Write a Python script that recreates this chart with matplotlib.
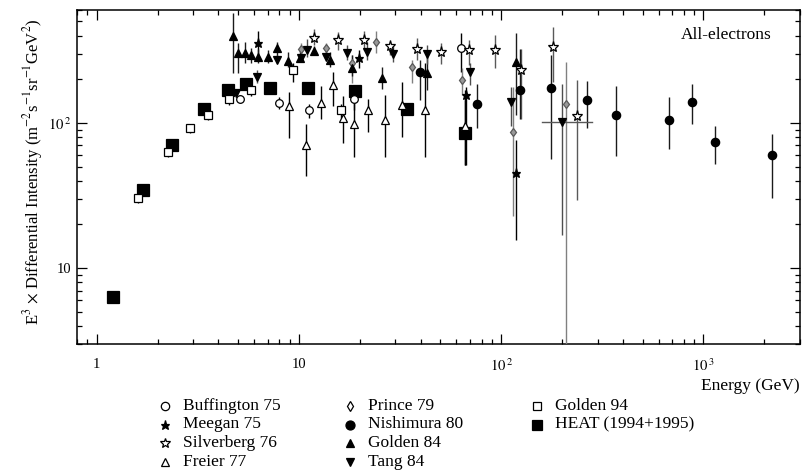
import numpy as np
import matplotlib
matplotlib.use("Agg")
import matplotlib.pyplot as plt
from matplotlib.lines import Line2D
from matplotlib.ticker import FuncFormatter, LogLocator, NullFormatter

plt.rcParams['font.family'] = ['Liberation Serif', 'DejaVu Serif']
plt.rcParams['mathtext.fontset'] = 'stix'

# HEAT (1994+1995)
heat_e = [1.20, 1.70, 2.37, 3.40, 4.47, 5.46, 7.2, 11.1, 19.0, 34.4, 66.5]
heat_i = [6.3, 34.3, 70, 124, 168, 185, 173, 173, 165, 124, 85]
heat_lo = [6.1, 33, 67, 119, 161, 178, 166, 166, 157, 117, 51]
heat_hi = [6.5, 35.5, 73, 129, 175, 192, 180, 180, 173, 131, 143]

# Golden 94
g94_e = [1.60, 2.25, 2.90, 3.56, 4.5, 5.8, 9.3, 16.2]
g94_i = [30.2, 62.8, 92, 113, 146, 168, 231, 122]
g94_lo = [28, 58, 85, 104, 134, 154, 191, 108]
g94_hi = [32, 67, 99, 122, 158, 182, 258, 136]

# Buffington 75
buf_e = [5.1, 8.0, 11.2, 18.7, 63]
buf_i = [146, 138, 122, 147, 326]
buf_lo = [138, 125, 108, 122, 223]
buf_hi = [155, 152, 135, 172, 419]

# Prince 79
pri_e = [10.2, 13.6, 18.2, 24.1, 36.2, 64.2, 114, 208]
pri_i = [321, 326, 257, 364, 241, 197, 86, 136]
pri_lo = [264, 279, 188, 302, 188, 155, 23, 1]
pri_hi = [354, 354, 293, 429, 271, 238, 176, 262]

# Meegan 75
mee_e = [6.3, 19.8, 67, 119]
mee_i = [356, 278, 157, 45.2]
mee_lo = [271, 238, 51, 15.5]
mee_hi = [429, 317, 176, 76]

# Silverberg 76
sil_e = [11.9, 15.6, 20.9, 28.1, 38.3, 50.5, 69, 93, 125, 181, 236]
sil_i = [386, 372, 372, 340, 322, 309, 317, 317, 231, 331, 112]
sil_lo = [343, 317, 317, 293, 271, 254, 250, 238, 106, 192, 29.3]
sil_hi = [443, 422, 429, 360, 384, 354, 372, 403, 322, 461, 197]

# Freier 77
fre_e = [8.9, 10.8, 12.9, 14.8, 16.5, 18.7, 21.9, 26.7, 32.4, 42.1, 66.5]
fre_i = [130, 70.2, 137, 182, 108, 99, 122, 105.5, 132, 122, 96]
fre_lo = [78.4, 42.9, 106, 130, 72.4, 58, 86, 58, 80, 58, 51]
fre_hi = [163, 98, 179, 223, 153, 143, 146, 155, 191, 258, 168]

# Golden 84
g84_e = [4.7, 5.02, 5.40, 5.8, 6.3, 7.0, 7.8, 8.8, 10.1, 11.9, 14.3, 18.4, 25.7, 42.9, 119]
g84_i = [396, 301, 304, 293, 283, 285, 329, 268, 281, 314, 271, 240, 204, 221, 261]
g84_lo = [220, 220, 258, 258, 258, 258, 271, 242, 264, 293, 242, 212, 171, 168, 113]
g84_hi = [571, 354, 360, 327, 322, 317, 360, 307, 327, 340, 307, 293, 242, 307, 415]

# Tang 84
tan_e = [4.88, 6.19, 7.8, 10.2, 11.0, 13.6, 17.3, 21.6, 29.1, 42.9, 70.3, 112, 200]
tan_i = [160, 208, 271, 278, 317, 285, 304, 309, 298, 297, 225, 140, 101.6]
tan_lo = [150, 188, 258, 271, 284, 271, 271, 271, 264, 254, 182, 96, 16.8]
tan_hi = [170, 231, 293, 317, 378, 327, 343, 360, 343, 343, 260, 176, 185]
tan_xlo = [None] * 12 + [158.7]
tan_xhi = [None] * 12 + [282]

# Nishimura 80
nis_e = [39.5, 75.9, 124, 176, 266, 370, 678, 876, 1137, 2170]
nis_i = [225, 136, 168, 175, 143, 113.5, 104, 140, 74, 60.5]
nis_lo = [143, 92, 106, 56.2, 92, 58.9, 66, 98, 51.9, 30.4]
nis_hi = [271, 185, 322, 293, 194, 179, 150, 185, 95, 83.6]

fig = plt.figure(figsize=(8.04, 4.73), dpi=100)
ax = fig.add_axes([77 / 804, 1 - 344 / 473, 723 / 804, 334 / 473])


def draw(e, i, lo, hi, marker, ms, mfc, color='black', ecolor='black', z=3):
    e = np.array(e)
    i = np.array(i)
    yerr = [i - np.array(lo), np.array(hi) - i]
    ax.errorbar(e, i, yerr=yerr, fmt=marker, ms=ms, mfc=mfc, mec=color,
                mew=0.9, ecolor=ecolor, elinewidth=1.0, capsize=0, zorder=z)


draw(heat_e, heat_i, heat_lo, heat_hi, 's', 8.6, 'black', z=2)
draw(g94_e, g94_i, g94_lo, g94_hi, 's', 5.2, 'white')
draw(buf_e, buf_i, buf_lo, buf_hi, 'o', 5.5, 'white')
draw(pri_e, pri_i, pri_lo, pri_hi, 'd', 4.5, '0.6', color='0.35', ecolor='0.5')
draw(mee_e, mee_i, mee_lo, mee_hi, '*', 6.5, 'black')
draw(sil_e, sil_i, sil_lo, sil_hi, '*', 8, 'white', ecolor='0.35')
draw(fre_e, fre_i, fre_lo, fre_hi, '^', 6, 'white')
draw(g84_e, g84_i, g84_lo, g84_hi, '^', 5.5, 'black', ecolor='0.1')
draw(tan_e, tan_i, tan_lo, tan_hi, 'v', 5.5, 'black', ecolor='0.3')
draw(nis_e, nis_i, nis_lo, nis_hi, 'o', 6, 'black', ecolor='0.1')

# horizontal energy bin of the last Tang point
ax.plot([tan_xlo[-1], tan_xhi[-1]], [tan_i[-1], tan_i[-1]], color='0.35', lw=1.0, zorder=3)

ax.set_xscale('log')
ax.set_yscale('log')
ax.set_xlim(0.8, 3000)
ax.set_ylim(3, 600)


def xfmt(v, pos):
    p = int(round(np.log10(v)))
    if p == 0:
        return '1'
    if p == 1:
        return '10'
    return r'$10^{\,%d}$' % p


ax.xaxis.set_major_locator(LogLocator(base=10))
ax.yaxis.set_major_locator(LogLocator(base=10))
ax.xaxis.set_major_formatter(FuncFormatter(xfmt))
ax.yaxis.set_major_formatter(FuncFormatter(xfmt))
ax.xaxis.set_minor_formatter(NullFormatter())
ax.yaxis.set_minor_formatter(NullFormatter())
ax.tick_params(which='both', direction='in', top=True, right=True, width=0.9,
               labelsize=10.5)
ax.tick_params(which='major', length=7)
ax.tick_params(which='minor', length=3.5)
ax.tick_params(axis='x', pad=10)
ax.tick_params(axis='y', pad=4)
for s in ax.spines.values():
    s.set_linewidth(1.1)

ax.text(0.96, 0.95, 'All-electrons', transform=ax.transAxes, ha='right', va='top',
        fontsize=12.5)

fig.text(800 / 804, 1 - 386 / 473, 'Energy (GeV)', ha='right', va='center', fontsize=12.5)
fig.text(33 / 804, 1 - 172 / 473,
         r'E$^3$ $\times$ Differential Intensity (m$^{-2}$s$^{-1}$sr$^{-1}$GeV$^2$)',
         rotation=90, ha='center', va='center', fontsize=12)

# legend drawn by hand in three columns
leg_names = [['Buffington 75', 'Meegan 75', 'Silverberg 76', 'Freier 77'],
             ['Prince 79', 'Nishimura 80', 'Golden 84', 'Tang 84'],
             ['Golden 94', 'HEAT (1994+1995)']]
leg_marks = [[('o', 'white', 'black', 6), ('*', 'black', 'black', 6.5),
              ('*', 'white', 'black', 7.5), ('^', 'white', 'black', 6)],
             [('d', 'white', 'black', 5), ('o', 'black', 'black', 6.5),
              ('^', 'black', 'black', 6), ('v', 'black', 'black', 6)],
             [('s', 'white', 'black', 6), ('s', 'black', 'black', 6.5)]]
col_x = [165, 350, 537]
row_y = [406, 424.5, 443, 461.5]
for c, names in enumerate(leg_names):
    for r, name in enumerate(names):
        m, fc, ec, ms = leg_marks[c][r]
        fx = col_x[c] / 804
        fy = 1 - row_y[r] / 473
        fig.add_artist(Line2D([fx], [fy], marker=m, ms=ms, mfc=fc, mec=ec, mew=0.9,
                              transform=fig.transFigure, linestyle='none'))
        fig.text(fx + 18 / 804, fy, name, ha='left', va='center', fontsize=12.5)

fig.savefig('out.png', dpi=100)
